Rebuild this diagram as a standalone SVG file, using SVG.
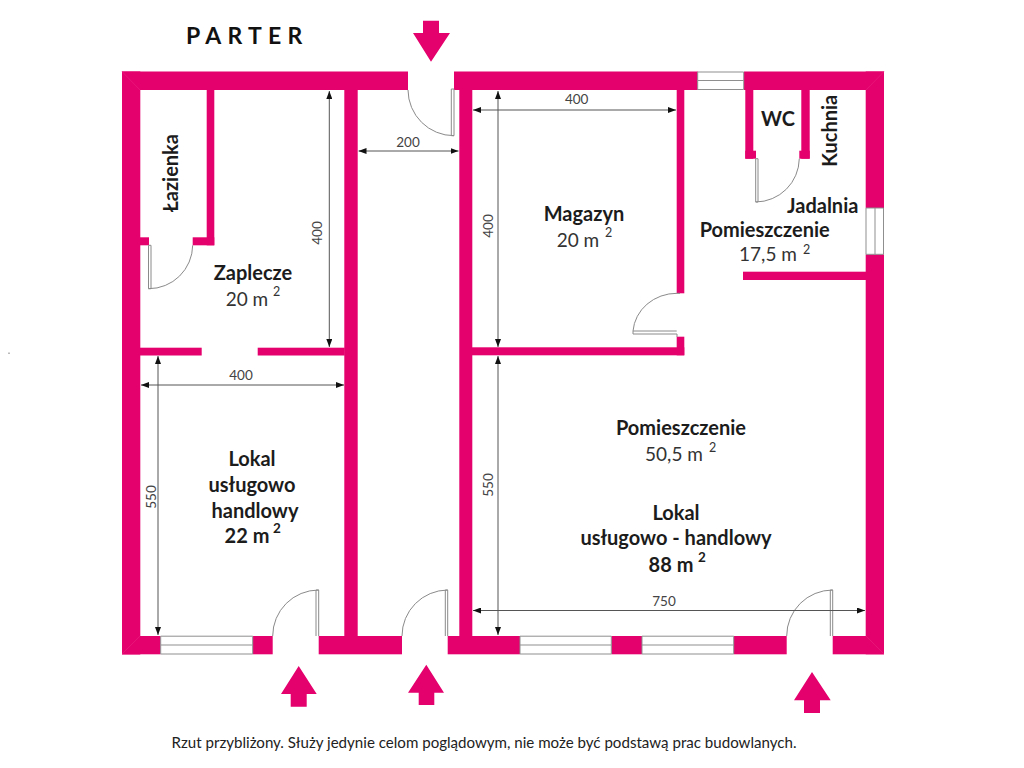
<svg xmlns="http://www.w3.org/2000/svg" width="1024" height="768" viewBox="0 0 1024 768">
<style>
.w{fill:#e4006d}
.a{fill:#e4006d}
.l{fill:none;stroke:#8a8a8a;stroke-width:1}
.win{fill:#fff;stroke:#8f8f8f;stroke-width:1}
.d{fill:none;stroke:#555;stroke-width:1;marker-start:url(#ah);marker-end:url(#ah)}
.m{stroke:#ea2a85;stroke-width:.5;fill:none}
text{font-family:Lato,"Open Sans","Liberation Sans",sans-serif;fill:#1c1c1c}
.b{font-weight:700;font-size:20px;text-anchor:middle}
.r{font-size:19px;text-anchor:middle;fill:#333}
.n{font-size:13.5px;text-anchor:middle;fill:#444}
.s{font-size:12.5px;fill:#333}
.sb{font-size:13.5px;font-weight:700}
</style>
<defs>
<marker id="ah" viewBox="0 0 8 6" refX="8" refY="3" markerWidth="8" markerHeight="6" orient="auto-start-reverse" markerUnits="userSpaceOnUse"><path d="M0 0L8 3L0 6Z" fill="#111"/></marker>
</defs>
<rect width="1024" height="768" fill="#fff"/>
<rect x="8" y="352.5" width="2" height="1.5" fill="#bbb"/>
<g id="walls">
<rect class="w" x="122" y="71.5" width="286" height="18.5"/>
<rect class="w" x="454" y="71.5" width="244" height="18.5"/>
<rect class="w" x="744" y="71.5" width="140" height="18.5"/>
<rect class="w" x="122" y="71.5" width="18.3" height="583"/>
<rect class="w" x="865.7" y="71.5" width="18.3" height="136.5"/>
<rect class="w" x="865.7" y="254.3" width="18.3" height="400"/>
<rect class="w" x="206.7" y="90" width="7.6" height="155.3"/>
<rect class="w" x="140" y="237.3" width="9" height="8"/>
<rect class="w" x="192.7" y="237.3" width="21.6" height="8"/>
<rect class="w" x="344.3" y="90" width="13.4" height="546"/>
<rect class="w" x="459.3" y="90" width="13" height="546"/>
<rect class="w" x="140" y="347.7" width="61.7" height="7.8"/>
<rect class="w" x="257.7" y="347.7" width="87" height="7.8"/>
<rect class="w" x="472" y="347.3" width="212.3" height="8"/>
<rect class="w" x="676.7" y="90" width="7.6" height="203.3"/>
<rect class="w" x="676.7" y="336.7" width="7.6" height="18.6"/>
<rect class="w" x="745.3" y="90" width="8" height="68.7"/>
<rect class="w" x="745.3" y="150.7" width="10.7" height="8"/>
<rect class="w" x="801.3" y="90" width="8.4" height="68.7"/>
<rect class="w" x="799.3" y="150.7" width="10.4" height="8"/>
<rect class="w" x="743" y="271.7" width="123" height="8.3"/>
<rect class="w" x="122" y="636" width="38.7" height="18.3"/>
<rect class="w" x="252.7" y="636" width="20" height="18.3"/>
<rect class="w" x="318.7" y="636" width="83.3" height="18.3"/>
<rect class="w" x="447.7" y="636" width="72.3" height="18.3"/>
<rect class="w" x="611.3" y="636" width="30.7" height="18.3"/>
<rect class="w" x="733.7" y="636" width="53" height="18.3"/>
<rect class="w" x="832.7" y="636" width="51.3" height="18.3"/>
<path class="m" d="M122 71.5L140 90M884 71.5L866 90M122 654L140 636M884 654L866 636"/>
</g>
<g id="windows">
<path class="win" d="M697.7 72H743.7V89.5H697.7ZM697.7 80.5H743.7"/>
<path class="win" d="M866 208H883.5V254.3H866ZM875 208V254.3"/>
<path class="win" d="M160.7 636.2H252.7V654H160.7ZM160.7 645H252.7"/>
<path class="win" d="M520 636.2H611.3V654H520ZM520 645H611.3"/>
<path class="win" d="M642 636.2H733.7V654H642ZM642 645H733.7"/>
</g>
<g id="doors">
<path class="l" d="M408 90A46 46 0 0 0 454 135.7H451.3V89H454V135.7"/>
<path class="l" d="M192.7 245.3A44 44 0 0 1 148.5 288.7H151V245.3H148.5V288.7"/>
<path class="l" d="M799.3 158.7A44 44 0 0 1 755.7 202H758V158.7H755.7V202"/>
<path class="l" d="M633 331A44 41 0 0 1 677 293.3H680M633 331V334H677V337M633 331H676.7"/>
<path class="l" d="M272.7 636A46 46 0 0 1 318.7 590H316V636M318.7 590V636"/>
<path class="l" d="M402 636A46 46 0 0 1 447.7 590H445.3V636M447.7 590V636"/>
<path class="l" d="M786.7 636A46 46 0 0 1 832.7 590H830.3V636M832.7 590V636"/>
</g>
<g id="dimensions">
<line class="d" x1="358.5" y1="151" x2="458.5" y2="151"/>
<line class="d" x1="329.3" y1="91" x2="329.3" y2="347"/>
<line class="d" x1="473" y1="110" x2="676" y2="110"/>
<line class="d" x1="498" y1="91" x2="498" y2="347"/>
<line class="d" x1="141" y1="385" x2="344" y2="385"/>
<line class="d" x1="158" y1="356" x2="158" y2="635"/>
<line class="d" x1="498" y1="356" x2="498" y2="635"/>
<line class="d" x1="473" y1="610.5" x2="865" y2="610.5"/>
<text class="n" x="408" y="147">200</text>
<text class="n" x="576.7" y="104">400</text>
<text class="n" x="241" y="380">400</text>
<text class="n" x="664" y="606">750</text>
<text class="n" transform="translate(322 233) rotate(-90)">400</text>
<text class="n" transform="translate(493 226) rotate(-90)">400</text>
<text class="n" transform="translate(156 497) rotate(-90)">550</text>
<text class="n" transform="translate(493 485) rotate(-90)">550</text>
</g>
<g id="entrances">
<path class="a" d="M423 20.7H439V33H450L431 61.7L413 33H423Z"/>
<path class="a" d="M290.7 706.7H306.7V694H316.7L298.7 666L281 694H290.7Z"/>
<path class="a" d="M418.7 705H434.3V692.7H444L426.3 664.7L408 692.7H418.7Z"/>
<path class="a" d="M804 713H820V700.3H830.7L812 672L794 700.3H804Z"/>
</g>
<g id="labels">
<text x="186" y="44" style="font-size:23px;font-weight:700;letter-spacing:6.2px;fill:#111">PARTER</text>
<text class="b" transform="translate(178 173) rotate(-90)">Łazienka</text>
<text class="b" x="253" y="280">Zaplecze</text>
<text class="r" x="247" y="306">20 m</text><text class="s" x="273" y="296">2</text>
<text class="b" x="584" y="221">Magazyn</text>
<text class="r" x="578" y="246.7">20 m</text><text class="s" x="605" y="237">2</text>
<text class="b" x="778" y="126">WC</text>
<text class="b" transform="translate(836.7 130.7) rotate(-90)">Kuchnia</text>
<text class="b" x="822.7" y="213.3">Jadalnia</text>
<text class="b" x="764.7" y="237.3">Pomieszczenie</text>
<text class="r" x="768" y="261">17,5 m</text><text class="s" x="803" y="254">2</text>
<text class="b" x="681" y="435">Pomieszczenie</text>
<text class="r" x="674" y="461">50,5 m</text><text class="s" x="709" y="451.5">2</text>
<text class="b" x="676" y="520">Lokal</text>
<text class="b" x="676" y="545">usługowo - handlowy</text>
<text class="b" x="671" y="571.5">88 m</text><text class="sb" x="698" y="561.5">2</text>
<text class="b" x="252" y="466">Lokal</text>
<text class="b" x="252" y="492">usługowo</text>
<text class="b" x="255" y="518">handlowy</text>
<text class="b" x="247" y="543">22 m</text><text class="sb" x="273" y="533">2</text>
<text x="484" y="748" style="font-size:15.1px;text-anchor:middle;fill:#222">Rzut przybliżony. Służy jedynie celom poglądowym, nie może być podstawą prac budowlanych.</text>
</g>
</svg>
